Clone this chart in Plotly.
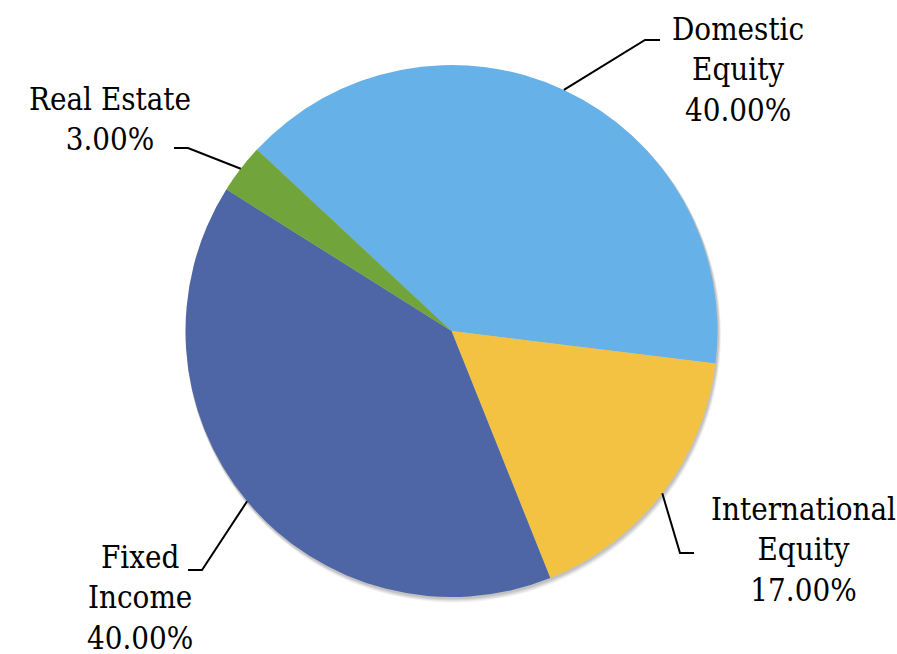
import math
import plotly.graph_objects as go

# Portfolio allocation
labels = ["Domestic Equity", "International Equity", "Fixed Income", "Real Estate"]
label_lines = ["Domestic<br>Equity", "International<br>Equity", "Fixed<br>Income", "Real Estate"]
values = [40.0, 17.0, 40.0, 3.0]
colors = ["#66B2E8", "#F3C243", "#4E66A5", "#71A53B"]

W, H = 897, 654
CX, CY, R = 451.5, 331.0, 266.0   # pie centre / radius in pixels
ROTATION = -47                     # first slice start, degrees clockwise from 12 o'clock
FONT = "DejaVu Serif Condensed, DejaVu Serif"
FSIZE = 31

# label placement (pixels): elbow of leader line, end of horizontal tick, text centre
label_layout = {
    "Domestic Equity":      dict(elbow=(645, 40), tail=(660, 40), text=(738, 70)),
    "International Equity": dict(elbow=(680, 553), tail=(694, 553), text=(803, 549)),
    "Fixed Income":         dict(elbow=(202, 570), tail=(188, 570), text=(140, 597)),
    "Real Estate":          dict(elbow=(188, 148), tail=(174, 148), text=(110, 119)),
}


def px(x):
    return x / W


def py(y):
    return 1 - y / H


def domain(dx=0.0, dy=0.0, dr=0.0):
    return dict(x=[px(CX + dx - R - dr), px(CX + dx + R + dr)],
                y=[py(CY + dy + R + dr), py(CY + dy - R - dr)])


fig = go.Figure()

# soft drop shadow beneath the pie
for off, alpha in [(5, 0.05), (4, 0.06), (3, 0.07), (2, 0.08)]:
    fig.add_trace(go.Pie(values=[1], labels=["shadow"], sort=False,
                         marker=dict(colors=[f"rgba(0,0,0,{alpha})"], line=dict(width=0)),
                         textinfo="none", hoverinfo="skip", showlegend=False,
                         domain=domain(off * 0.4, off * 0.8, off * 0.3)))

fig.add_trace(go.Pie(
    labels=labels, values=values, sort=False, direction="clockwise",
    rotation=ROTATION, marker=dict(colors=colors, line=dict(width=0)),
    textinfo="none", showlegend=False, domain=domain(),
))

total = sum(values)
start = ROTATION
shapes, annotations = [], []
for lab, lines, v in zip(labels, label_lines, values):
    sweep = 360 * v / total
    mid = math.radians(start + sweep / 2)
    start += sweep
    ex, ey = CX + R * math.sin(mid), CY - R * math.cos(mid)
    lay = label_layout[lab]
    (bx, by), (tx, ty) = lay["elbow"], lay["tail"]
    shapes.append(dict(type="path", xref="paper", yref="paper",
                       path=f"M {px(ex)} {py(ey)} L {px(bx)} {py(by)} L {px(tx)} {py(ty)}",
                       line=dict(color="black", width=2)))
    lx, ly = lay["text"]
    annotations.append(dict(x=px(lx), y=py(ly), xref="paper", yref="paper",
                            xanchor="center", yanchor="middle", align="center",
                            showarrow=False, borderpad=0, text=f"{lines}<br>{v:.2f}%",
                            font=dict(family=FONT, size=FSIZE, color="black")))

fig.update_layout(width=W, height=H, margin=dict(l=0, r=0, t=0, b=0),
                  paper_bgcolor="white", plot_bgcolor="white",
                  shapes=shapes, annotations=annotations)

fig.write_html("out.html")
